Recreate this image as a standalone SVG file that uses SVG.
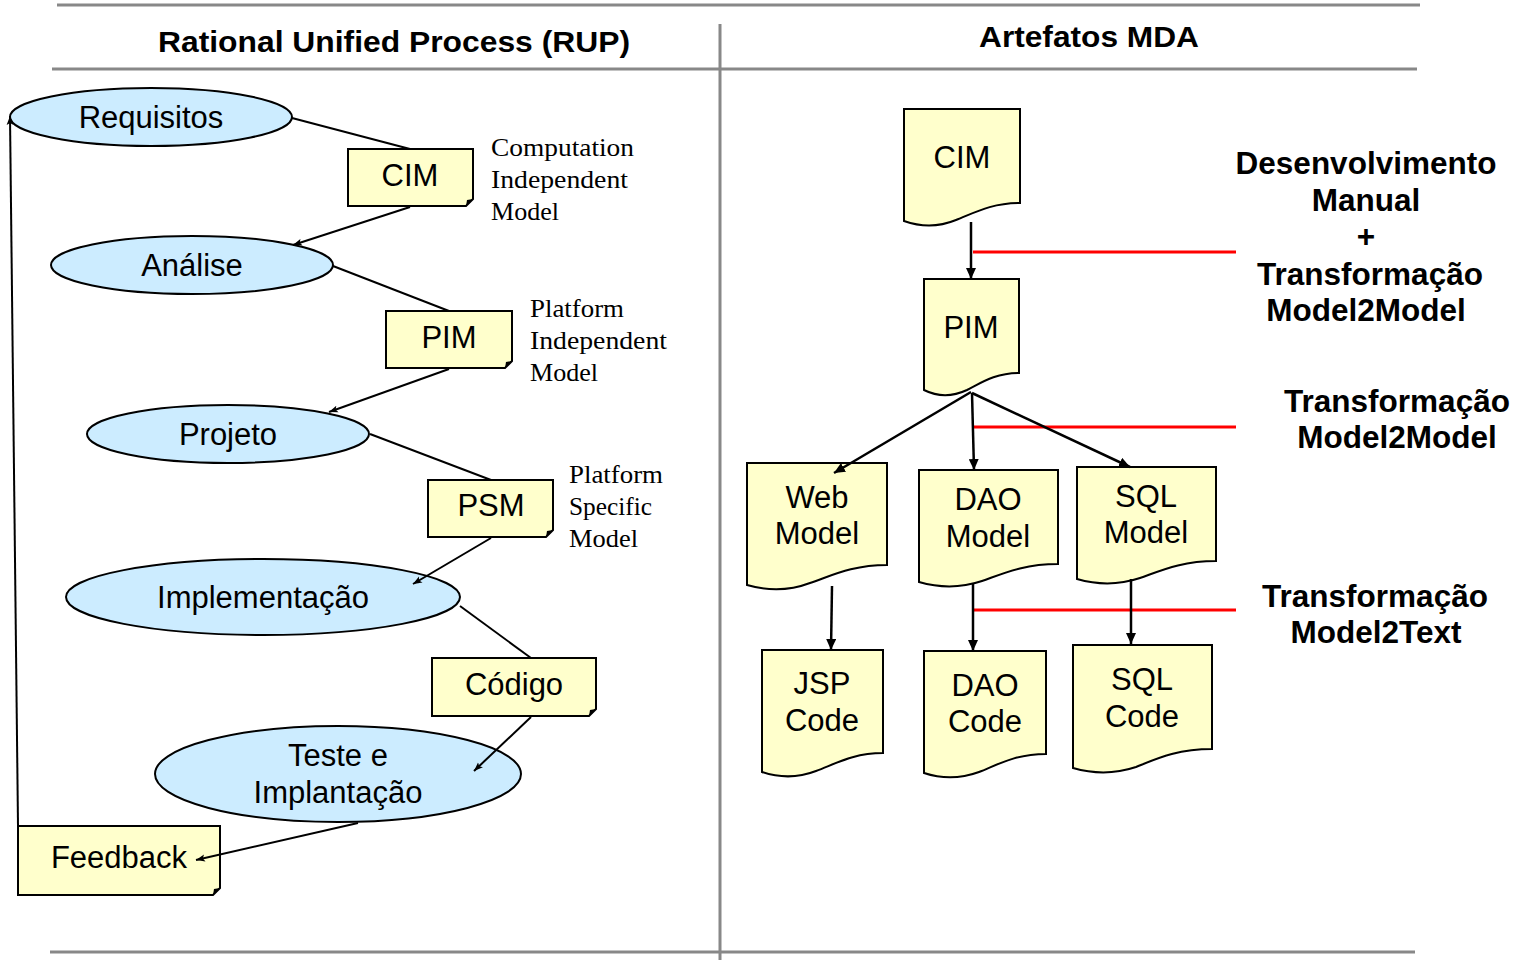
<svg xmlns="http://www.w3.org/2000/svg" width="1524" height="960" viewBox="0 0 1524 960">
  <style>
    .rule { stroke: #888888; stroke-width: 3; fill: none; }
    .title { font-family: "Liberation Sans", Arial, sans-serif; font-weight: bold; font-size: 30px; fill: #000; text-anchor: middle; }
    .label { font-family: "Liberation Sans", Arial, sans-serif; font-size: 31px; fill: #000; text-anchor: middle; }
    .side { font-family: "Liberation Sans", Arial, sans-serif; font-weight: bold; font-size: 31.5px; fill: #000; text-anchor: middle; }
    .cap { font-family: "Liberation Serif", "Times New Roman", serif; font-size: 26px; fill: #000; }
    .phase { fill: #CCECFF; stroke: #000; stroke-width: 2; }
    .note { fill: #FFFFCC; stroke: #000; stroke-width: 2; }
    .doc { fill: #FFFFCC; stroke: #000; stroke-width: 2; }
    .fold { fill: #000; }
    .link { stroke: #000; stroke-width: 2; fill: none; }
    .flow { stroke: #000; stroke-width: 2.5; fill: none; }
    .cut { stroke: #FF0000; stroke-width: 3; fill: none; }
  </style>
  <defs>
    <marker id="tip" markerUnits="userSpaceOnUse" markerWidth="10" markerHeight="8" refX="9" refY="4" orient="auto">
      <path d="M0,0.5 L9,4 L0,7.5 L2,4 Z" fill="#000"/>
    </marker>
    <marker id="head" markerUnits="userSpaceOnUse" markerWidth="12" markerHeight="10" refX="11" refY="5" orient="auto">
      <path d="M0,0 L11,5 L0,10 Z" fill="#000"/>
    </marker>
  </defs>

  <!-- table rules -->
  <g id="frame">
    <line class="rule" x1="57" y1="5" x2="1420" y2="5"/>
    <line class="rule" x1="52" y1="69" x2="1417" y2="69"/>
    <line class="rule" x1="720" y1="24" x2="720" y2="960"/>
    <line class="rule" x1="50" y1="952" x2="1415" y2="952"/>
    <text class="title" x="394" y="52" textLength="472" lengthAdjust="spacingAndGlyphs">Rational Unified Process (RUP)</text>
    <text class="title" x="1089" y="47" textLength="220" lengthAdjust="spacingAndGlyphs">Artefatos MDA</text>
  </g>

  <!-- RUP phases -->
  <g id="requisitos">
    <ellipse class="phase" cx="151" cy="117" rx="141" ry="29"/>
    <text class="label" x="151" y="128">Requisitos</text>
  </g>
  <g id="analise">
    <ellipse class="phase" cx="192" cy="265" rx="141" ry="29"/>
    <text class="label" x="192" y="276">Análise</text>
  </g>
  <g id="projeto">
    <ellipse class="phase" cx="228" cy="434" rx="141" ry="29"/>
    <text class="label" x="228" y="445">Projeto</text>
  </g>
  <g id="implementacao">
    <ellipse class="phase" cx="263" cy="597" rx="197" ry="38"/>
    <text class="label" x="263" y="608">Implementação</text>
  </g>
  <g id="teste">
    <ellipse class="phase" cx="338" cy="774" rx="183" ry="48"/>
    <text class="label" x="338" y="766">Teste e</text>
    <text class="label" x="338" y="803">Implantação</text>
  </g>

  <!-- RUP artefacts (notes with folded corner) -->
  <g id="cim-note">
    <path class="note" d="M348,149 H473 V199 L466,206 H348 Z"/>
    <path class="fold" d="M473,199 L466,206 L467,200 Z"/>
    <text class="label" x="410" y="186">CIM</text>
    <text class="cap" x="491" y="156" textLength="143" lengthAdjust="spacingAndGlyphs">Computation</text>
    <text class="cap" x="491" y="188" textLength="137" lengthAdjust="spacingAndGlyphs">Independent</text>
    <text class="cap" x="491" y="220" textLength="68" lengthAdjust="spacingAndGlyphs">Model</text>
  </g>
  <g id="pim-note">
    <path class="note" d="M386,311 H512 V361 L505,368 H386 Z"/>
    <path class="fold" d="M512,361 L505,368 L506,362 Z"/>
    <text class="label" x="449" y="348">PIM</text>
    <text class="cap" x="530" y="317" textLength="94" lengthAdjust="spacingAndGlyphs">Platform</text>
    <text class="cap" x="530" y="349" textLength="137" lengthAdjust="spacingAndGlyphs">Independent</text>
    <text class="cap" x="530" y="381" textLength="68" lengthAdjust="spacingAndGlyphs">Model</text>
  </g>
  <g id="psm-note">
    <path class="note" d="M428,480 H553 V530 L546,537 H428 Z"/>
    <path class="fold" d="M553,530 L546,537 L547,531 Z"/>
    <text class="label" x="491" y="516">PSM</text>
    <text class="cap" x="569" y="483" textLength="94" lengthAdjust="spacingAndGlyphs">Platform</text>
    <text class="cap" x="569" y="515" textLength="83" lengthAdjust="spacingAndGlyphs">Specific</text>
    <text class="cap" x="569" y="547" textLength="69" lengthAdjust="spacingAndGlyphs">Model</text>
  </g>
  <g id="codigo-note">
    <path class="note" d="M432,658 H596 V709 L589,716 H432 Z"/>
    <path class="fold" d="M596,709 L589,716 L590,710 Z"/>
    <text class="label" x="514" y="695">Código</text>
  </g>
  <g id="feedback-note">
    <path class="note" d="M18,826 H220 V888 L213,895 H18 Z"/>
    <path class="fold" d="M220,888 L213,895 L214,889 Z"/>
    <text class="label" x="119" y="868">Feedback</text>
  </g>

  <!-- MDA artefacts (document shapes) -->
  <g id="mda-cim">
    <path class="doc" d="M904,109 H1020 V203 C991,203 974,213 956,220 C939,227 921,227 904,221 Z"/>
    <text class="label" x="962" y="168">CIM</text>
  </g>
  <g id="mda-pim">
    <path class="doc" d="M924,279 H1019 V373 C995,373 981,383 967,390 C952,397 938,397 924,390 Z"/>
    <text class="label" x="971" y="338">PIM</text>
  </g>
  <g id="web-model">
    <path class="doc" d="M747,463 H887 V565 C852,565 831,576 810,583 C789,591 768,591 747,585 Z"/>
    <text class="label" x="817" y="508">Web</text>
    <text class="label" x="817" y="544">Model</text>
  </g>
  <g id="dao-model">
    <path class="doc" d="M919,470 H1058 V564 C1023,564 1002,574 982,581 C961,588 940,588 919,582 Z"/>
    <text class="label" x="988" y="510">DAO</text>
    <text class="label" x="988" y="547">Model</text>
  </g>
  <g id="sql-model">
    <path class="doc" d="M1077,467 H1216 V561 C1181,561 1160,571 1140,578 C1119,585 1098,585 1077,579 Z"/>
    <text class="label" x="1146" y="507">SQL</text>
    <text class="label" x="1146" y="543">Model</text>
  </g>
  <g id="jsp-code">
    <path class="doc" d="M762,650 H883 V753 C853,753 835,764 816,771 C798,778 780,778 762,772 Z"/>
    <text class="label" x="822" y="694">JSP</text>
    <text class="label" x="822" y="731">Code</text>
  </g>
  <g id="dao-code">
    <path class="doc" d="M924,651 H1046 V754 C1015,754 997,765 979,772 C960,779 942,779 924,773 Z"/>
    <text class="label" x="985" y="696">DAO</text>
    <text class="label" x="985" y="732">Code</text>
  </g>
  <g id="sql-code">
    <path class="doc" d="M1073,645 H1212 V749 C1177,749 1156,759 1136,767 C1115,774 1094,774 1073,768 Z"/>
    <text class="label" x="1142" y="690">SQL</text>
    <text class="label" x="1142" y="727">Code</text>
  </g>

  <!-- connectors, drawn over the shapes they point into -->
  <g id="connectors">
    <line class="link" x1="292" y1="118" x2="410" y2="149"/>
    <line class="link" x1="410" y1="207" x2="293" y2="245" marker-end="url(#tip)"/>
    <line class="link" x1="333" y1="266" x2="449" y2="311"/>
    <line class="link" x1="449" y1="369" x2="329" y2="412" marker-end="url(#tip)"/>
    <line class="link" x1="370" y1="434" x2="491" y2="480"/>
    <line class="link" x1="491" y1="538" x2="413" y2="584" marker-end="url(#tip)"/>
    <line class="link" x1="460" y1="606" x2="531" y2="658"/>
    <line class="link" x1="531" y1="717" x2="474" y2="771" marker-end="url(#tip)"/>
    <line class="link" x1="358" y1="823" x2="196" y2="860" marker-end="url(#tip)"/>
    <line class="link" x1="18" y1="826" x2="10" y2="116" marker-end="url(#tip)"/>

    <line class="cut" x1="973" y1="252" x2="1236" y2="252"/>
    <line class="cut" x1="973" y1="427" x2="1236" y2="427"/>
    <line class="cut" x1="973" y1="610" x2="1236" y2="610"/>

    <line class="flow" x1="971" y1="222" x2="971" y2="279" marker-end="url(#head)"/>
    <line class="flow" x1="971" y1="392" x2="834" y2="473" marker-end="url(#head)"/>
    <line class="flow" x1="972" y1="393" x2="974" y2="470" marker-end="url(#head)"/>
    <line class="flow" x1="972" y1="393" x2="1130" y2="467" marker-end="url(#head)"/>
    <line class="flow" x1="832" y1="586" x2="831" y2="650" marker-end="url(#head)"/>
    <line class="flow" x1="973" y1="583" x2="973" y2="651" marker-end="url(#head)"/>
    <line class="flow" x1="1131" y1="579" x2="1131" y2="644" marker-end="url(#head)"/>
  </g>

  <!-- transformation notes -->
  <g id="desenvolvimento">
    <text class="side" x="1366" y="174">Desenvolvimento</text>
    <text class="side" x="1366" y="211">Manual</text>
    <text class="side" x="1366" y="247">+</text>
    <text class="side" x="1370" y="285">Transformação</text>
    <text class="side" x="1366" y="321">Model2Model</text>
  </g>
  <g id="m2m">
    <text class="side" x="1397" y="412">Transformação</text>
    <text class="side" x="1397" y="448">Model2Model</text>
  </g>
  <g id="m2t">
    <text class="side" x="1375" y="607">Transformação</text>
    <text class="side" x="1376" y="643">Model2Text</text>
  </g>
</svg>
